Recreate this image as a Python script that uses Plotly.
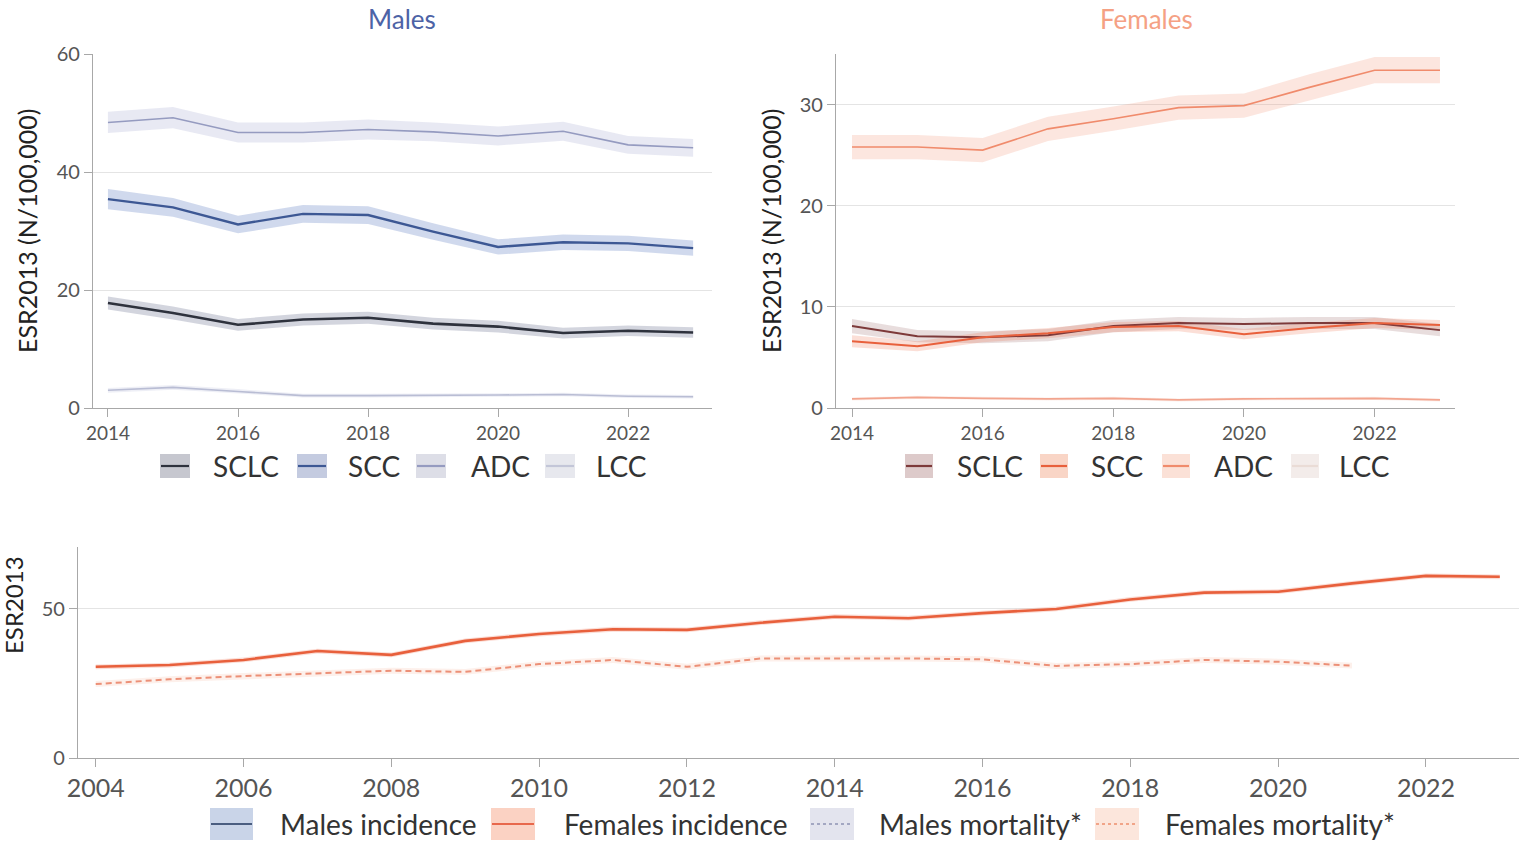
import plotly.graph_objects as go

# ---------------------------------------------------------------------------
# Data: age-standardised rates (ESR2013, per 100,000)
# ---------------------------------------------------------------------------
years_top = [2014, 2015, 2016, 2017, 2018, 2019, 2020, 2021, 2022, 2023]
years_bottom = [2004, 2005, 2006, 2007, 2008, 2009, 2010, 2011, 2012, 2013,
                2014, 2015, 2016, 2017, 2018, 2019, 2020, 2021, 2022, 2023]
years_mortality = [2004, 2005, 2006, 2007, 2008, 2009, 2010, 2011, 2012,
                   2013, 2014, 2015, 2016, 2017, 2018, 2019, 2020, 2021]

# Males, by histology
male_sclc = [17.8, 16.1, 14.1, 15.0, 15.3, 14.3, 13.8, 12.7, 13.1, 12.8]
male_scc = [35.4, 34.0, 31.1, 32.9, 32.7, 29.9, 27.3, 28.1, 27.9, 27.1]
male_adc = [48.4, 49.2, 46.7, 46.7, 47.2, 46.8, 46.1, 46.9, 44.6, 44.1]
male_lcc = [3.0, 3.5, 2.8, 2.1, 2.1, 2.1, 2.2, 2.3, 2.0, 1.9]
# 95% CI half-widths
male_sclc_ci = [1.1, 1.1, 1.0, 1.0, 1.0, 1.0, 1.0, 0.9, 0.9, 0.9]
male_scc_ci = [1.7, 1.6, 1.5, 1.5, 1.5, 1.4, 1.3, 1.3, 1.3, 1.3]
male_adc_ci = [1.8, 1.8, 1.7, 1.7, 1.7, 1.6, 1.6, 1.6, 1.5, 1.5]
male_lcc_ci = [0.4, 0.4, 0.4, 0.3, 0.3, 0.3, 0.3, 0.3, 0.3, 0.3]

# Females, by histology
female_sclc = [8.1, 7.1, 7.0, 7.2, 8.1, 8.4, 8.3, 8.4, 8.4, 7.7]
female_scc = [6.6, 6.1, 7.0, 7.4, 8.0, 8.1, 7.3, 7.9, 8.4, 8.2]
female_adc = [25.8, 25.8, 25.5, 27.6, 28.6, 29.7, 29.9, 31.7, 33.4, 33.4]
female_lcc = [0.9, 1.05, 0.95, 0.9, 0.95, 0.8, 0.9, 0.95, 0.95, 0.8]
female_sclc_ci = [0.7, 0.6, 0.6, 0.6, 0.6, 0.6, 0.6, 0.6, 0.6, 0.6]
female_scc_ci = [0.6, 0.5, 0.5, 0.5, 0.5, 0.5, 0.5, 0.5, 0.5, 0.5]
female_adc_ci = [1.2, 1.2, 1.2, 1.2, 1.2, 1.2, 1.2, 1.3, 1.3, 1.3]
female_lcc_ci = [0.15, 0.15, 0.15, 0.15, 0.15, 0.15, 0.15, 0.15, 0.15, 0.15]

# All histologies, 2004-2023
female_incidence = [30.6, 31.2, 32.9, 35.9, 34.6, 39.3, 41.6, 43.2, 43.0, 45.4,
                    47.4, 46.9, 48.6, 50.0, 53.2, 55.5, 55.8, 58.6, 61.1, 60.8]
female_incidence_ci = [0.8, 0.8, 0.8, 0.8, 0.8, 0.8, 0.8, 0.8, 0.8, 0.8,
                       0.8, 0.8, 0.8, 0.8, 0.8, 0.8, 0.8, 0.8, 0.8, 0.8]
female_mortality = [24.8, 26.4, 27.5, 28.4, 29.3, 28.9, 31.5, 32.9, 30.6,
                    33.4, 33.4, 33.4, 33.1, 30.9, 31.5, 32.9, 32.3, 31.0]
female_mortality_ci = [1.0, 1.0, 1.0, 1.0, 1.0, 1.0, 1.0, 1.0, 1.0,
                       1.0, 1.0, 1.0, 1.0, 1.0, 1.0, 1.0, 1.0, 1.0]

histology_labels = ["SCLC", "SCC", "ADC", "LCC"]
bottom_labels = ["Males incidence", "Females incidence",
                 "Males mortality*", "Females mortality*"]

# ---------------------------------------------------------------------------
W, H = 1519, 844
FONT = "Lato, 'Open Sans', sans-serif"


def fx(px):
    return px / W


def fy(py):
    return 1 - py / H


fig = go.Figure()


def add_series(x, y, hw, xa, ya, color, band, width, dash="solid"):
    lo = [v - h for v, h in zip(y, hw)]
    hi = [v + h for v, h in zip(y, hw)]
    fig.add_trace(go.Scatter(
        x=list(x) + list(x)[::-1], y=hi + lo[::-1],
        xaxis=xa, yaxis=ya, mode="lines", fill="toself",
        fillcolor=band, line=dict(width=0), hoverinfo="skip",
        showlegend=False))
    return dict(x=x, y=y, xaxis=xa, yaxis=ya, mode="lines",
                line=dict(color=color, width=width, dash=dash),
                showlegend=False)


male_styles = [
    (male_sclc, male_sclc_ci, "#2e323d", "rgba(110,115,145,0.30)", 2.6),
    (male_scc, male_scc_ci, "#3d5894", "rgba(100,130,195,0.30)", 2.4),
    (male_adc, male_adc_ci, "#959bc0", "rgba(150,155,200,0.22)", 1.6),
    (male_lcc, male_lcc_ci, "#b9bdd4", "rgba(170,175,210,0.20)", 1.6),
]
female_styles = [
    (female_sclc, female_sclc_ci, "#7d3a3a", "rgba(150,100,100,0.22)", 2.0),
    (female_scc, female_scc_ci, "#e8603c", "rgba(235,110,75,0.22)", 2.0),
    (female_adc, female_adc_ci, "#f08b6c", "rgba(240,140,110,0.22)", 1.6),
    (female_lcc, female_lcc_ci, "#f2a48e", "rgba(240,170,150,0.18)", 1.6),
]

lines = []
for vals, ci, col, band, w in male_styles:
    lines.append(add_series(years_top, vals, ci, "x", "y", col, band, w))
for vals, ci, col, band, w in female_styles:
    lines.append(add_series(years_top, vals, ci, "x2", "y2", col, band, w))
lines.append(add_series(years_mortality, female_mortality, female_mortality_ci,
                        "x3", "y3", "#ec9077", "rgba(245,170,145,0.18)", 2.0,
                        dash="6px,4px"))
lines.append(add_series(years_bottom, female_incidence, female_incidence_ci,
                        "x3", "y3", "#e8603c", "rgba(240,120,90,0.25)", 2.6))
for ln in lines:
    fig.add_trace(go.Scatter(**ln))

# ---------------------------------------------------------------------------
axis_common = dict(showline=True, linecolor="#a8a8a8", linewidth=1.2,
                   ticks="outside", ticklen=8, tickcolor="#a8a8a8",
                   zeroline=False, automargin=False)
xtick_font = dict(family=FONT, size=19, color="#555555")
ytick_font = dict(family=FONT, size=20, color="#555555")
grid = dict(showgrid=True, gridcolor="#e4e4e4", gridwidth=1)

fig.update_layout(
    width=W, height=H,
    margin=dict(l=0, r=0, t=0, b=0, pad=0, autoexpand=False),
    paper_bgcolor="white", plot_bgcolor="white", showlegend=False,
    font=dict(family=FONT),
    xaxis=dict(domain=[fx(93), fx(712)], range=[2013.77, 2023.29],
               tickvals=[2014, 2016, 2018, 2020, 2022], anchor="y",
               showgrid=False, tickfont=xtick_font, **axis_common),
    yaxis=dict(domain=[fy(408), fy(54)], range=[0, 60],
               tickvals=[0, 20, 40, 60], anchor="x",
               tickfont=ytick_font, **grid, **axis_common),
    xaxis2=dict(domain=[fx(836), fx(1455)], range=[2013.755, 2023.23],
                tickvals=[2014, 2016, 2018, 2020, 2022], anchor="y2",
                showgrid=False, tickfont=xtick_font, **axis_common),
    yaxis2=dict(domain=[fy(408), fy(54)], range=[0, 35],
                tickvals=[0, 10, 20, 30], anchor="x2",
                tickfont=ytick_font, **grid, **axis_common),
    xaxis3=dict(domain=[fx(78), 1.0], range=[2003.76, 2023.26],
                tickvals=list(range(2004, 2023, 2)), anchor="y3",
                showgrid=False, tickfont=dict(family=FONT, size=25, color="#555555"),
                **axis_common),
    yaxis3=dict(domain=[fy(758), fy(547)], range=[0, 70.8],
                tickvals=[0, 50], anchor="x3",
                tickfont=ytick_font, **grid, **axis_common),
)

annotations = [
    dict(text="Males", x=fx(402), y=fy(19), font=dict(size=26, color="#4d63a6")),
    dict(text="Females", x=fx(1146), y=fy(19), font=dict(size=26, color="#f5a184")),
    dict(text="ESR2013 (N/100,000)", x=fx(27), y=fy(231), textangle=-90,
         font=dict(size=25, color="#222222")),
    dict(text="ESR2013 (N/100,000)", x=fx(771), y=fy(231), textangle=-90,
         font=dict(size=25, color="#222222")),
    dict(text="ESR2013", x=fx(13), y=fy(605), textangle=-90,
         font=dict(size=24, color="#222222")),
]
for a in annotations:
    a.update(xref="paper", yref="paper", showarrow=False,
             xanchor="center", yanchor="middle")
    a["font"]["family"] = FONT

shapes = []


def legend_item(x0, x1, yc, h, fill, line_col, text, text_x, size=28,
                dash="solid", lw=2.2):
    shapes.append(dict(type="rect", xref="paper", yref="paper",
                       x0=fx(x0), x1=fx(x1), y0=fy(yc + h / 2), y1=fy(yc - h / 2),
                       fillcolor=fill, line=dict(width=0), layer="above"))
    shapes.append(dict(type="line", xref="paper", yref="paper",
                       x0=fx(x0 + 1), x1=fx(x1 - 1), y0=fy(yc), y1=fy(yc),
                       line=dict(color=line_col, width=lw, dash=dash),
                       layer="above"))
    annotations.append(dict(text=text, xref="paper", yref="paper",
                            x=fx(text_x), y=fy(yc), xanchor="left",
                            yanchor="middle", showarrow=False,
                            font=dict(family=FONT, size=size, color="#333333")))


# Males legend
male_leg = [
    (160, 190, "#c6c7cf", "#2e323d", 211),
    (297, 327, "#c4cbe0", "#3d5894", 346),
    (416, 446, "#dddee7", "#959bc0", 469),
    (545, 575, "#e7e8ee", "#c3c6d8", 594),
]
for (x0, x1, fill, lc, tx), lab in zip(male_leg, histology_labels):
    legend_item(x0, x1, 466, 24, fill, lc, lab, tx)

# Females legend
female_leg = [
    (905, 933, "#ddcaca", "#7d3a3a", 955),
    (1040, 1068, "#f9d5c6", "#e8603c", 1089),
    (1162, 1190, "#fbe1d7", "#f08b6c", 1212),
    (1291, 1319, "#f3ecea", "#eadcd6", 1337),
]
for (x0, x1, fill, lc, tx), lab in zip(female_leg, histology_labels):
    legend_item(x0, x1, 466, 24, fill, lc, lab, tx)

# Incidence / mortality legend
bottom_leg = [
    (210, 253, "#c9d4e8", "#4a5d80", 278, "solid"),
    (491, 535, "#fbd2c3", "#e8684c", 562, "solid"),
    (810, 854, "#e3e4ee", "#a3a7c2", 877, "dot"),
    (1095, 1139, "#fce6dc", "#f1a488", 1163, "dot"),
]
for (x0, x1, fill, lc, tx, ds), lab in zip(bottom_leg, bottom_labels):
    legend_item(x0, x1, 824, 32, fill, lc, lab, tx, dash=ds)

fig.update_layout(annotations=annotations, shapes=shapes)

fig.write_html("out.html")
